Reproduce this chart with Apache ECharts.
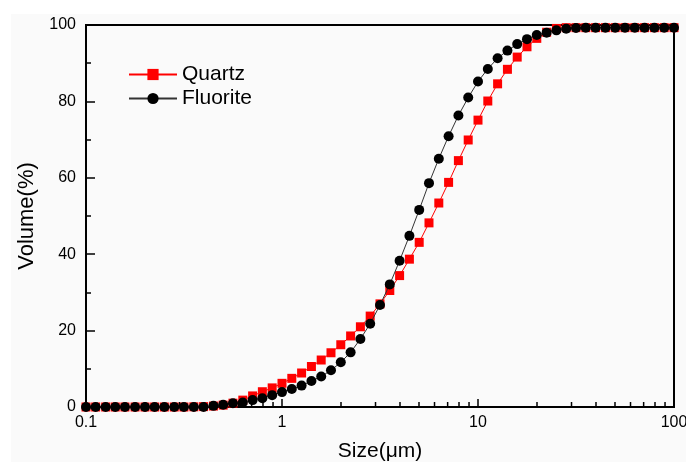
<!DOCTYPE html>
<html>
<head>
<meta charset="utf-8">
<script src="https://cdn.jsdelivr.net/npm/echarts@6/dist/echarts.min.js"></script>
<style>
html,body{margin:0;padding:0;background:#fff;}
#chart{width:686px;height:462px;}
</style>
</head>
<body>
<div id="chart"></div>
<script>
// Particle size classes (µm)
const sizes = [0.1, 0.112, 0.126, 0.141, 0.158, 0.178, 0.2, 0.224, 0.251, 0.282,
  0.316, 0.355, 0.398, 0.447, 0.501, 0.562, 0.631, 0.708, 0.794, 0.891,
  1, 1.122, 1.259, 1.413, 1.585, 1.778, 1.995, 2.239, 2.512, 2.818,
  3.162, 3.548, 3.981, 4.467, 5.012, 5.623, 6.31, 7.079, 7.943, 8.913,
  10, 11.22, 12.59, 14.13, 15.85, 17.78, 19.95, 22.39, 25.12, 28.18,
  31.62, 35.48, 39.81, 44.67, 50.12, 56.23, 63.1, 70.79, 79.43, 89.13, 100];

// Cumulative volume (%)
const quartz = [0, 0, 0, 0, 0, 0, 0, 0, 0, 0,
  0, 0.05, 0.1, 0.25, 0.5, 1.0, 1.8, 2.9, 4.0, 5.0,
  6.2, 7.5, 8.9, 10.6, 12.3, 14.2, 16.3, 18.6, 21.0, 23.8,
  27.0, 30.5, 34.4, 38.7, 43.1, 48.2, 53.4, 58.8, 64.5, 69.9,
  75.1, 80.1, 84.6, 88.4, 91.6, 94.3, 96.5, 98.1, 99.1, 99.3,
  99.3, 99.3, 99.3, 99.3, 99.3, 99.3, 99.3, 99.3, 99.3, 99.3, 99.3];

const fluorite = [0, 0, 0, 0, 0, 0, 0, 0, 0, 0,
  0, 0, 0, 0.3, 0.6, 1.0, 1.2, 1.8, 2.3, 3.1,
  3.9, 4.7, 5.6, 6.8, 8.0, 9.6, 11.7, 14.3, 17.8, 21.8,
  26.7, 32.1, 38.3, 44.8, 51.6, 58.6, 65.0, 70.9, 76.3, 81.0,
  85.2, 88.5, 91.3, 93.3, 95.0, 96.3, 97.4, 98.0, 98.6, 99.0,
  99.2, 99.3, 99.3, 99.3, 99.3, 99.3, 99.3, 99.3, 99.3, 99.3, 99.3];

const seriesNames = ['Quartz', 'Fluorite'];
const xTickLabels = ['0.1', '1', '10', '100'];
const xMinorTicks = [0.2, 0.3, 0.4, 0.5, 0.6, 0.7, 0.8, 0.9,
  2, 3, 4, 5, 6, 7, 8, 9, 20, 30, 40, 50, 60, 70, 80, 90];

const pair = (xs, ys) => xs.map((x, i) => [x, ys[i]]);
const font = 'Liberation Sans, Arial, sans-serif';

const chart = echarts.init(document.getElementById('chart'), null, {renderer: 'canvas'});
chart.setOption({
  animation: false,
  backgroundColor: '#ffffff',
  graphic: [{
    type: 'rect', left: 11, top: 14, z: -10,
    shape: {width: 675, height: 448},
    style: {fill: '#fafafa'}
  }],
  grid: {
    left: 86, right: 12, top: 25, bottom: 55,
    containLabel: false, outerBoundsMode: 'none',
    show: true, borderColor: '#000', borderWidth: 2, backgroundColor: 'transparent'
  },
  legend: {
    data: seriesNames,
    orient: 'vertical',
    left: 128, top: 64, padding: 0,
    itemWidth: 48, itemHeight: 14, itemGap: 3,
    textStyle: {fontFamily: font, fontSize: 21, color: '#000'}
  },
  xAxis: {
    type: 'log', logBase: 10, min: 0.1, max: 100,
    name: 'Size(μm)', nameLocation: 'middle', nameGap: 34,
    nameTextStyle: {fontFamily: font, fontSize: 21, color: '#000'},
    axisLine: {lineStyle: {color: '#000', width: 2}},
    axisTick: {inside: true, length: 8, lineStyle: {color: '#000', width: 1.5}},
    axisLabel: {
      margin: 8, fontFamily: font, fontSize: 16, color: '#000',
      formatter: function (v) {
        const i = Math.round(Math.log10(v) + 1);
        return xTickLabels[i] !== undefined ? xTickLabels[i] : '';
      }
    },
    splitLine: {show: false}
  },
  yAxis: {
    type: 'value', min: 0, max: 100, interval: 20,
    name: 'Volume(%)', nameLocation: 'middle', nameGap: 48, nameRotate: 90,
    nameTextStyle: {fontFamily: font, fontSize: 22, color: '#000'},
    axisLine: {lineStyle: {color: '#000', width: 2}},
    axisTick: {inside: true, length: 9, lineStyle: {color: '#000', width: 1.5}},
    minorTick: {show: true, splitNumber: 2, length: 5, lineStyle: {color: '#000', width: 1.5}},
    axisLabel: {margin: 10, fontFamily: font, fontSize: 16, color: '#000'},
    splitLine: {show: false}
  },
  series: [
    {
      name: 'Quartz', type: 'line',
      data: pair(sizes, quartz),
      symbol: 'rect', symbolSize: 9,
      lineStyle: {color: '#ff0000', width: 1},
      itemStyle: {color: '#ff0000'},
      z: 3
    },
    {
      name: 'Fluorite', type: 'line',
      data: pair(sizes, fluorite),
      symbol: 'circle', symbolSize: 10,
      lineStyle: {color: '#333333', width: 1},
      itemStyle: {color: '#000000'},
      z: 4
    },
    {
      name: 'minorTicksX', type: 'custom',
      coordinateSystem: 'cartesian2d',
      silent: true, clip: false, z: 5,
      data: xMinorTicks.map(v => [v, 0]),
      encode: {x: 0, y: 1},
      renderItem: function (params, api) {
        const p = api.coord([api.value(0), api.value(1)]);
        return {
          type: 'line',
          shape: {x1: p[0], y1: p[1], x2: p[0], y2: p[1] - 5},
          style: {stroke: '#000', lineWidth: 1.5}
        };
      }
    }
  ]
});
</script>
</body>
</html>
